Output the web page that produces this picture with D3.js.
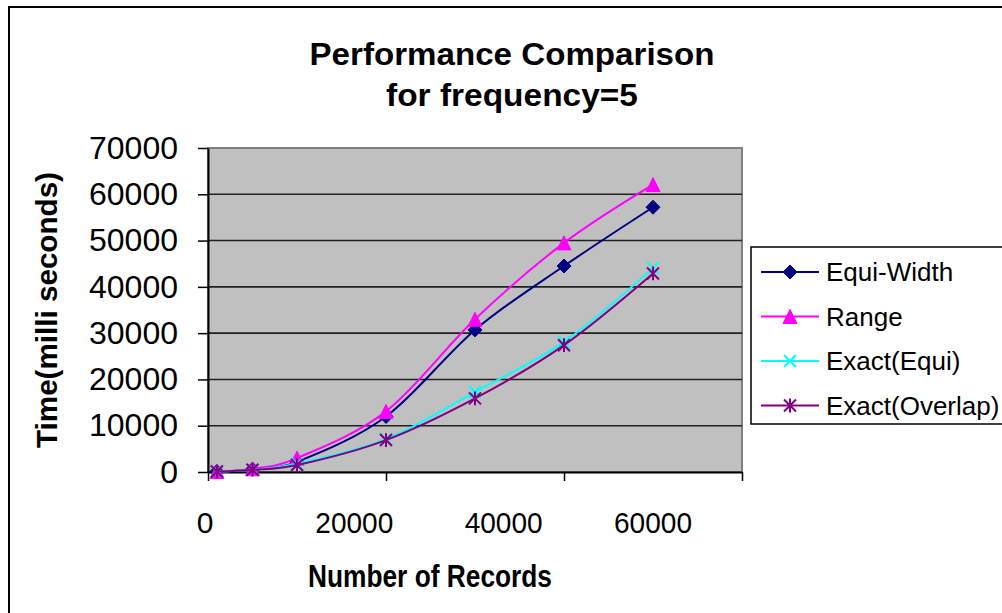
<!DOCTYPE html>
<html>
<head>
<meta charset="utf-8">
<script src="https://cdn.jsdelivr.net/npm/d3@7"></script>
<style>
  html, body { margin: 0; padding: 0; background: #ffffff; }
  svg { display: block; }
  text { font-family: "Liberation Sans", Arial, Helvetica, sans-serif; fill: #000; }
</style>
</head>
<body>
<svg id="chart" width="1002" height="613"></svg>
<script>
// Record counts on the x axis
const records = [1000, 5000, 10000, 20000, 30000, 40000, 50000];

// Execution time (milliseconds) for each method
const equiWidth    = [100, 600, 2200, 12000, 30700, 44500, 57200];
const rangeTimes   = [100, 700, 3000, 13100, 33000, 49500, 62100];
const exactEqui    = [100, 500, 1800, 7100, 17300, 28100, 44100];
const exactOverlap = [100, 500, 1500, 6900, 15900, 27400, 42900];

const seriesNames = ["Equi-Width", "Range", "Exact(Equi)", "Exact(Overlap)"];
const yTickValues = [0, 10000, 20000, 30000, 40000, 50000, 60000, 70000];
const xTickValues = [0, 20000, 40000, 60000];
const titleLines  = ["Performance Comparison", "for frequency=5"];

// Custom marker shapes
const diamond = { draw(ctx, size) { const r = Math.sqrt(size) / 2; ctx.moveTo(0, -r); ctx.lineTo(r, 0); ctx.lineTo(0, r); ctx.lineTo(-r, 0); ctx.closePath(); } };
const triangle = { draw(ctx, size) { const r = Math.sqrt(size) / 2; ctx.moveTo(0, -r); ctx.lineTo(r, r); ctx.lineTo(-r, r); ctx.closePath(); } };
const cross = { draw(ctx, size) { const r = Math.sqrt(size) / 2; ctx.moveTo(-r, -r); ctx.lineTo(r, r); ctx.moveTo(r, -r); ctx.lineTo(-r, r); } };
const star = { draw(ctx, size) { const r = Math.sqrt(size) / 2; ctx.moveTo(-r, -r); ctx.lineTo(r, r); ctx.moveTo(r, -r); ctx.lineTo(-r, r); ctx.moveTo(0, -r * 1.15); ctx.lineTo(0, r * 1.15); } };

const series = [
  { name: seriesNames[0], values: equiWidth,    color: "#000080", shape: diamond,  size: 196, filled: true },
  { name: seriesNames[1], values: rangeTimes,   color: "#ff00ff", shape: triangle, size: 196, filled: true },
  { name: seriesNames[2], values: exactEqui,    color: "#00ffff", shape: cross,    size: 144, filled: false },
  { name: seriesNames[3], values: exactOverlap, color: "#800080", shape: star,     size: 144, filled: false }
];

const svg = d3.select("#chart");

// Chart frame
svg.append("rect")
  .attr("x", 9).attr("y", 7).attr("width", 1100).attr("height", 700)
  .attr("fill", "#ffffff").attr("stroke", "#000").attr("stroke-width", 2);

const x = d3.scaleLinear().domain([0, 60000]).range([208, 742]);
const y = d3.scaleLinear().domain([0, 70000]).range([472, 148]);
// Horizontal positions of the x tick labels
const xLabel = d3.scaleLinear().domain([0, 60000]).range([205, 653]);

// Plot area
svg.append("rect")
  .attr("x", x(0)).attr("y", y(70000))
  .attr("width", x(60000) - x(0)).attr("height", y(0) - y(70000))
  .attr("fill", "#c0c0c0").attr("stroke", "#808080").attr("stroke-width", 2);

// Horizontal gridlines
svg.append("g").selectAll("line")
  .data(yTickValues.filter(v => v > 0 && v < 70000))
  .join("line")
  .attr("x1", x(0)).attr("x2", x(60000))
  .attr("y1", d => y(d)).attr("y2", d => y(d))
  .attr("stroke", "#202020").attr("stroke-width", 1.6);

// Y axis
const yAxis = svg.append("g")
  .attr("transform", `translate(${x(0)},0)`)
  .call(d3.axisLeft(y).tickValues(yTickValues).tickSize(10).tickPadding(20).tickSizeOuter(0).tickFormat(d3.format("d")));
yAxis.select(".domain").attr("stroke", "#000").attr("stroke-width", 2);
yAxis.selectAll(".tick line").attr("stroke", "#000").attr("stroke-width", 1.5);
yAxis.selectAll(".tick text").attr("font-size", 32).attr("font-family", "Liberation Sans, Arial, sans-serif").attr("fill", "#000");

// X axis
const xAxis = svg.append("g")
  .attr("transform", `translate(0,${y(0)})`)
  .call(d3.axisBottom(x).tickValues(xTickValues).tickSize(9).tickSizeOuter(0).tickFormat(""));
xAxis.select(".domain").attr("stroke", "#000").attr("stroke-width", 2);
xAxis.selectAll(".tick line").attr("stroke", "#000").attr("stroke-width", 1.5);

svg.append("g").selectAll("text")
  .data(xTickValues)
  .join("text")
  .attr("x", d => xLabel(d)).attr("y", 533)
  .attr("text-anchor", "middle").attr("font-size", 30)
  .attr("textLength", d => d === 0 ? null : 78).attr("lengthAdjust", "spacingAndGlyphs")
  .text(d => d3.format("d")(d));

// Series lines and markers
const line = d3.line()
  .x((d, i) => x(records[i]))
  .y(d => y(d))
  .curve(d3.curveCatmullRom.alpha(0));

series.forEach(s => {
  svg.append("path")
    .attr("d", line(s.values))
    .attr("fill", "none").attr("stroke", s.color).attr("stroke-width", 2);
  svg.append("g").selectAll("path")
    .data(s.values)
    .join("path")
    .attr("transform", (d, i) => `translate(${x(records[i])},${y(d)})`)
    .attr("d", d3.symbol().type(s.shape).size(s.size))
    .attr("fill", s.filled ? s.color : "none")
    .attr("stroke", s.color).attr("stroke-width", s.filled ? 1 : 2);
});

// Titles
svg.append("g").selectAll("text")
  .data(titleLines)
  .join("text")
  .attr("x", 512).attr("y", (d, i) => 65 + i * 41)
  .attr("text-anchor", "middle").attr("font-size", 31).attr("font-weight", "bold")
  .attr("textLength", (d, i) => i === 0 ? 405 : 252).attr("lengthAdjust", "spacingAndGlyphs")
  .text(d => d);

svg.append("text")
  .attr("x", 430).attr("y", 587)
  .attr("text-anchor", "middle").attr("font-size", 31).attr("font-weight", "bold")
  .attr("textLength", 244).attr("lengthAdjust", "spacingAndGlyphs")
  .text("Number of Records");

svg.append("text")
  .attr("transform", "translate(57,310) rotate(-90)")
  .attr("text-anchor", "middle").attr("font-size", 29).attr("font-weight", "bold")
  .attr("textLength", 276).attr("lengthAdjust", "spacingAndGlyphs")
  .text("Time(milli seconds)");

// Legend
const legend = svg.append("g");
legend.append("rect")
  .attr("x", 751).attr("y", 247).attr("width", 400).attr("height", 177)
  .attr("fill", "#ffffff").attr("stroke", "#000").attr("stroke-width", 1.5);

const legendRows = legend.selectAll("g.row")
  .data(series)
  .join("g")
  .attr("class", "row")
  .attr("transform", (d, i) => `translate(0,${272 + i * 44.5})`);

legendRows.append("line")
  .attr("x1", 761).attr("x2", 819).attr("y1", 0).attr("y2", 0)
  .attr("stroke", d => d.color).attr("stroke-width", 2);
legendRows.append("path")
  .attr("transform", "translate(790,0)")
  .attr("d", d => d3.symbol().type(d.shape).size(d.size)())
  .attr("fill", d => d.filled ? d.color : "none")
  .attr("stroke", d => d.color).attr("stroke-width", d => d.filled ? 1 : 2);
legendRows.append("text")
  .attr("x", 826).attr("y", 9)
  .attr("font-size", 26)
  .text(d => d.name);
</script>
</body>
</html>
